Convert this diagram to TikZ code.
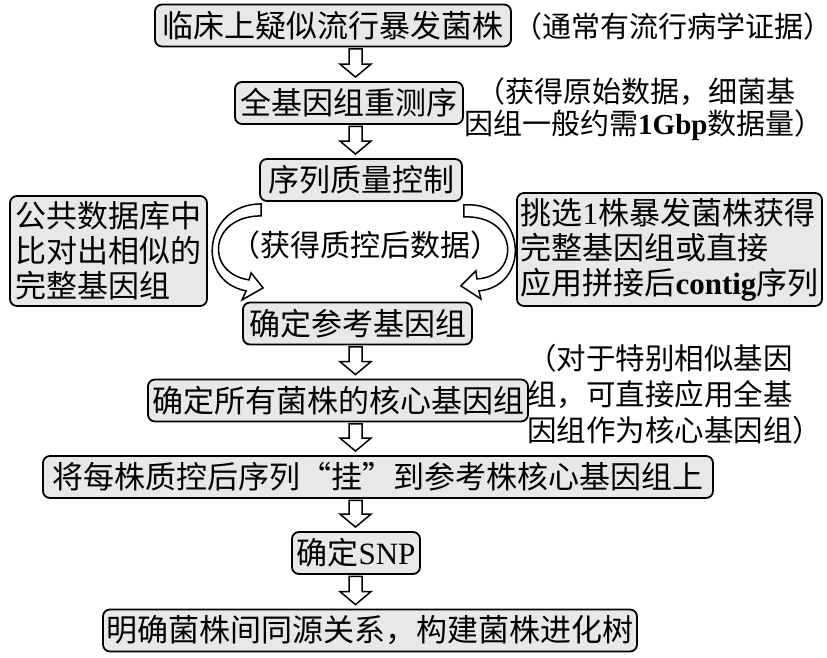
\documentclass[tikz,border=0pt]{standalone}
\usepackage{fontspec}
\setmainfont{Noto Sans CJK SC}
\newfontfamily\latin{Liberation Serif}
\usetikzlibrary{calc}

\newcommand{\hollowdown}[2]{%
    \draw [hollow] let \p1 = (#1.south -| axis), \p2 = (#2.north -| axis) in
        (\x1-6.5pt, \y1-1.5pt) -- (\x1+6.5pt, \y1-1.5pt) -- (\x1+6.5pt, \y2+17pt)
        -- (\x1+15.5pt, \y2+17pt) -- (\x1, \y2+4pt) -- (\x1-15.5pt, \y2+17pt)
        -- (\x1-6.5pt, \y2+17pt) -- cycle;}

\begin{document}
\begin{tikzpicture}
    [
    x                   = 1pt,
    y                   = -1pt,
    every node/.style   = {font=\fontsize{31}{35}\selectfont, inner sep=0pt},
    stage/.style        = {draw, line width=1.8pt, rounded corners=7pt, fill=black!9,
                           minimum height=42pt, align=left},
    note/.style         = {font=\fontsize{29.5}{32}\selectfont, align=left, anchor=west},
    hollow/.style       = {draw, fill=white, line width=1.5pt, line join=miter},
    ]
    \useasboundingbox (0,0) rectangle (827,658);
    \coordinate (axis) at (355.5,0);

    \node [stage, minimum width=356pt] (suspect) at (333,25.5) {临床上疑似流行暴发菌株};
    \node [stage, minimum width=228pt] (reseq) at (349,103) {全基因组重测序};
    \node [stage, minimum width=202pt] (qc) at (361,180) {序列质量控制};
    \node [stage, minimum width=197pt, minimum height=110pt] (public) at (108.5,251)
        {公共数据库中\\比对出相似的\\完整基因组};
    \node [stage, minimum width=305pt, minimum height=113pt] (assembly) at (669.5,249.5)
        {挑选{\latin 1}株暴发菌株获得\\完整基因组或直接\\应用拼接后{\latin\bfseries contig}序列};
    \node [stage, minimum width=229pt] (reference) at (357.5,323.5) {确定参考基因组};
    \node [stage, minimum width=380pt] (core) at (338,400.5) {确定所有菌株的核心基因组};
    \node [stage, minimum width=670pt] (mapping) at (378,477) {将每株质控后序列“挂”到参考株核心基因组上};
    \node [stage, minimum width=128pt] (snp) at (356,553) {确定{\latin SNP}};
    \node [stage, minimum width=534pt] (tree) at (370,630.5) {明确菌株间同源关系，构建菌株进化树};

    \node [note, font=\fontsize{29}{32}\selectfont] (evidence) at (513,26) {（通常有流行病学证据）};
    \node [note, font=\fontsize{29}{32}\selectfont] (rawdata) at (464,109)
        {\hspace*{12pt}（获得原始数据，细菌基\\因组一般约需{\latin\bfseries 1Gbp}数据量）};
    \node [note, font=\fontsize{29.5}{36}\selectfont] (similar) at (527,394)
        {（对于特别相似基因\\组，可直接应用全基\\因组作为核心基因组）};
    \node [font=\fontsize{30}{32}\selectfont] (cleandata) at (365,245) {（获得质控后数据）};

    \hollowdown{suspect}{reseq}
    \hollowdown{reseq}{qc}
    \hollowdown{reference}{core}
    \hollowdown{core}{mapping}
    \hollowdown{mapping}{snp}
    \hollowdown{snp}{tree}

    \draw [hollow, shift={(qc.south west)}]
        (2,2) .. controls (-55,2) and (-65,79) .. (-13,89) -- (-17,98) -- (4,86)
        -- (-8,71) -- (-10,78) .. controls (-55,71) and (-50,14) .. (2,14) -- cycle;
    \draw [hollow, shift={(qc.south east)}]
        (1,3) .. controls (63,-1) and (70,84) .. (16,89) -- (18,97) -- (-2,84)
        -- (13,69) -- (14,77) .. controls (58,75) and (56,13) .. (1,15) -- cycle;
\end{tikzpicture}
\end{document}
